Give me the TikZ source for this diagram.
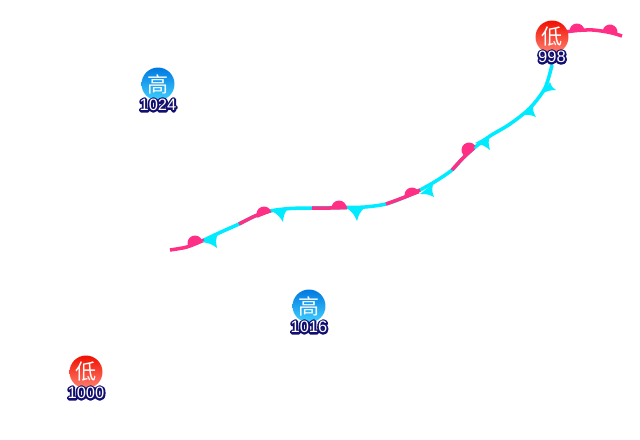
\documentclass[tikz,border=0pt]{standalone}
\usepackage{fontspec}
\usepackage{xcolor}
\usepackage{tikz}
\usetikzlibrary{calc}
\setmainfont{Liberation Sans}
\newfontfamily\cjkfont{Noto Sans CJK SC}
\definecolor{warmpink}{HTML}{FF2F86}
\definecolor{coldcyan}{HTML}{00EBFF}
\definecolor{hightop}{HTML}{0078E0}
\definecolor{highbottom}{HTML}{40D0FF}
\definecolor{lowtop}{HTML}{F01000}
\definecolor{lowbottom}{HTML}{FF8070}
\newcommand{\pressure}[1]{\rlap{\special{pdf:code 1 Tr 2.1 w 1 j 0.07 0.06 0.43 RG}#1\special{pdf:code 0 Tr 0.4 w 0 j}}\textcolor{white}{#1}}

\begin{document}
\begin{tikzpicture}[
  x=0.02cm, y=-0.02cm,
  centre/.style={circle, minimum size=0.66cm, inner sep=0pt, text=white, font=\cjkfont\fontsize{12}{12}\selectfont},
  highcentre/.style={centre, top color=hightop, bottom color=highbottom, text=white},
  lowcentre/.style={centre, top color=lowtop, bottom color=lowbottom, text=white},
  reading/.style={inner sep=0pt, font=\fontsize{9.4}{10}\selectfont},
  warm/.style={draw=warmpink, line width=2pt},
  cold/.style={draw=coldcyan, line width=2pt}
]
  \useasboundingbox (0,0) rectangle (640,440);

  % Cold stretches run under the whole front
  \draw[cold] plot[smooth] coordinates {(202,241) (220,232.5) (239,224) (255,216) (270,211) (290,208.5) (312,208) (345,207.5) (365,207) (386,204) (405,197) (420,190) (436,181) (452,170) (463,158) (474,148) (490,136) (510,124) (530,108) (545,88) (552,65)};

  % Warm stretches
  \draw[warm] plot[smooth] coordinates {(170,250) (185,247.5) (195,244) (204,240)};
  \draw[warm] plot[smooth] coordinates {(239,224) (255,216) (270,211)};
  \draw[warm] plot[smooth] coordinates {(312,208) (330,208) (347,207.5)};
  \draw[warm] plot[smooth] coordinates {(386,204) (405,197) (420,190)};
  \draw[warm] plot[smooth] coordinates {(452,170) (463,158) (474,148)};
  \draw[warm] plot[smooth] coordinates {(565,32) (577,30.5) (593,30) (610,32.5) (622,36)};

  % Warm bumps: x/y/slope
  \foreach \x/\y/\a in {195/243/20, 264/214/22, 339/208/0, 412/195/20, 469/150/40, 577/31/4, 610/32/-12}
    \fill[warmpink, shift={(\x,\y)}, rotate=\a] (-7.5,1) -- (-7.5,0) arc (180:360:7.5) -- (7.5,1) -- cycle;

  % Cold barbs: base/tip/base
  \foreach \ax/\ay/\tx/\ty/\bx/\by in {202/242/217/248/218/233, 272/211/283/222/288/208, 347/208/357/221/365/207, 420/194/434/197/433/184, 475/143/490/150/490/135, 523/115/536/117/533/105, 543/93/556/90/550/82}
    \fill[coldcyan] (\ax,\ay) .. controls ($(\ax,\ay)!.5!(\tx,\ty)!.12!(\bx,\by)$) .. (\tx,\ty) .. controls ($(\bx,\by)!.5!(\tx,\ty)!.12!(\ax,\ay)$) .. (\bx,\by) -- cycle;

  % Pressure centres
  \node[highcentre] (high1) at (158,84) {高};
  \node[reading] (high1val) at (158,105) {\pressure{1024}};
  \node[highcentre] (high2) at (309,306) {高};
  \node[reading] (high2val) at (309,327) {\pressure{1016}};
  \node[lowcentre] (low1) at (552,37) {低};
  \node[reading] (low1val) at (552,57) {\pressure{998}};
  \node[lowcentre] (low2) at (86,372) {低};
  \node[reading] (low2val) at (86,393) {\pressure{1000}};
\end{tikzpicture}
\end{document}
